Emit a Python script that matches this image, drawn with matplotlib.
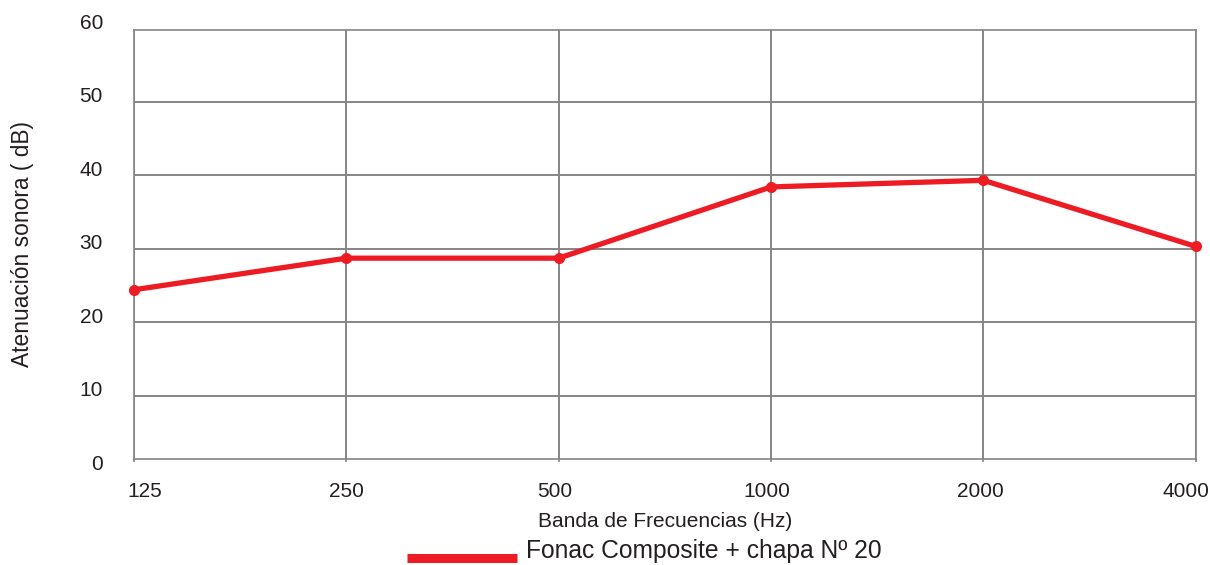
import matplotlib.pyplot as plt
import matplotlib.transforms as mtransforms
from matplotlib.lines import Line2D

plt.rcParams["font.family"] = ["Liberation Sans", "DejaVu Sans"]

# Datos
frecuencias = ["125", "250", "500", "1000", "2000", "4000"]
atenuacion = [24.4, 28.7, 28.7, 38.4, 39.3, 30.3]
y_ticks = [0, 10, 20, 30, 40, 50, 60]
serie = "Fonac Composite + chapa Nº 20"

rojo = "#ed1c24"
gris = "#858585"
texto = "#231f20"
DPI = 100

figure = plt.figure(figsize=(12.10, 5.65), dpi=DPI)
axis = figure.add_axes([0.1107, 0.1881, 0.8775, 0.7593])

x = list(range(len(frecuencias)))
axis.plot(x, atenuacion, color=rojo, linewidth=3.8, marker="o",
          markersize=7, solid_joinstyle="round", zorder=3, clip_on=False)

axis.set_xlim(0, len(frecuencias) - 1)
axis.set_ylim(1.4, 59.8)

# Rejilla
axis.set_xticks(x)
axis.set_xticklabels(frecuencias, fontsize=15, color=texto)
axis.set_yticks(y_ticks[1:-1])
axis.set_yticklabels([])
axis.tick_params(axis="y", length=0)
axis.tick_params(axis="x", length=2, width=1.2, color=gris, pad=15)
axis.grid(True, color=gris, linewidth=1.4)
axis.set_axisbelow(True)
for spine in axis.spines.values():
    spine.set_color(gris)
    spine.set_linewidth(1.2)

# Etiquetas X desplazadas como en el original (en píxeles)
desplazamientos = [11, 0, -4, -4, -3, -10]
for label, dx in zip(axis.get_xticklabels(), desplazamientos):
    label.set_transform(label.get_transform() + mtransforms.ScaledTranslation(dx / DPI, 0, figure.dpi_scale_trans))

# Etiquetas Y por encima de las líneas
trans_y = mtransforms.blended_transform_factory(axis.transAxes, axis.transData)
offset = mtransforms.ScaledTranslation(0, 5 / DPI, figure.dpi_scale_trans)
for valor in y_ticks:
    axis.text(-31 / 1062, valor, str(valor), transform=trans_y + offset,
              ha="right", va="center", fontsize=15, color=texto)

axis.set_xlabel("Banda de Frecuencias (Hz)", fontsize=15, color=texto, labelpad=8)
axis.set_ylabel("Atenuación sonora ( dB)", fontsize=16.4, color=texto)
axis.yaxis.set_label_coords(-0.094, 0.5)

# Leyenda
figure.add_artist(Line2D([407 / 1210, 517 / 1210], [1 - 558 / 565, 1 - 558 / 565],
                         transform=figure.transFigure, color=rojo,
                         linewidth=6.5, solid_capstyle="butt"))
figure.text(526 / 1210, 1 - 551 / 565, serie, fontsize=17.7, color=texto,
            ha="left", va="center")

figure.savefig("out.png", dpi=DPI)
plt.close(figure)
